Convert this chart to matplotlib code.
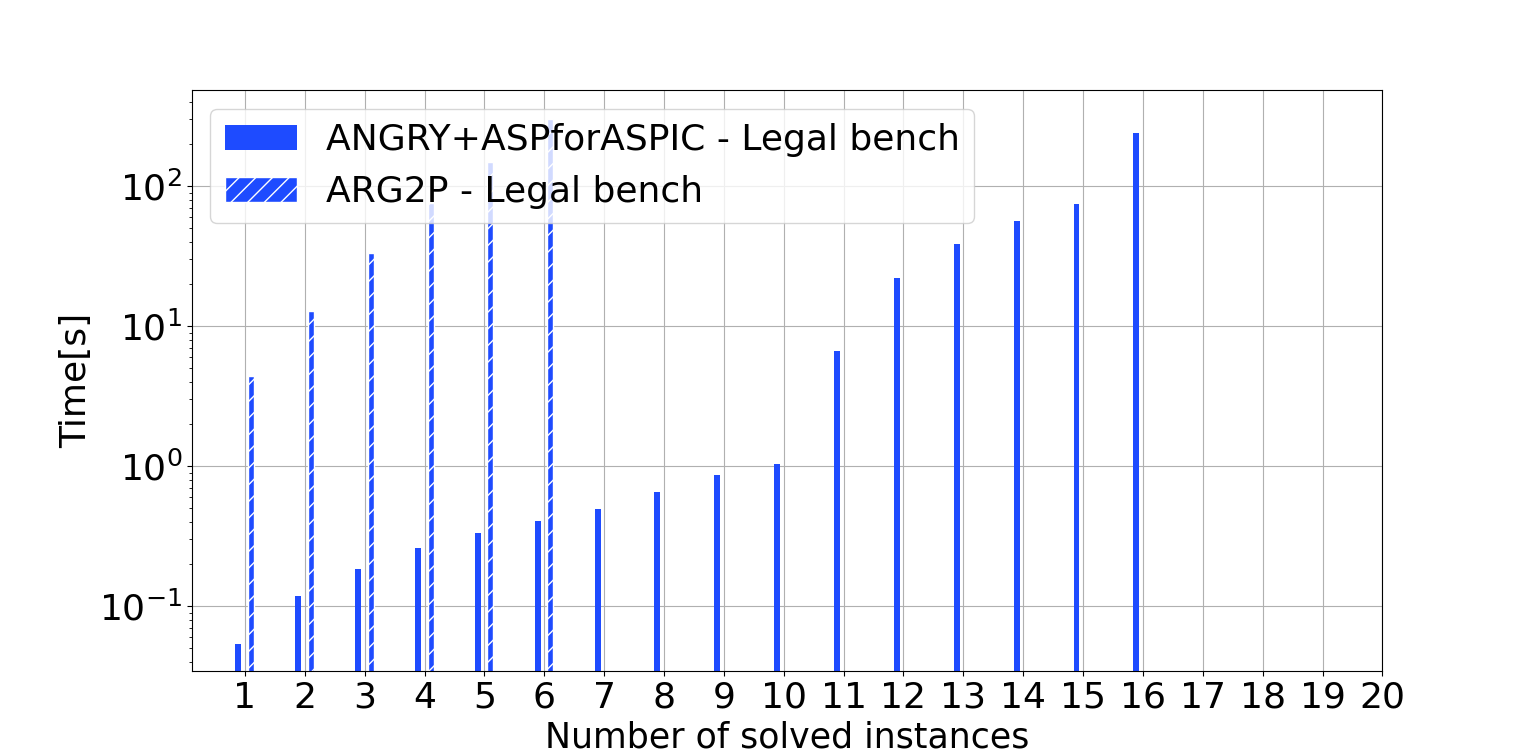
import numpy as np
import matplotlib
matplotlib.use('Agg')
import matplotlib.pyplot as plt

# Number of solved instances (x ticks)
instances = np.arange(1, 21)

# ANGRY+ASPforASPIC times (s), one per solved instance
angry_idx = np.arange(1, 17)
angry_times = [0.054, 0.118, 0.183, 0.259, 0.331, 0.409, 0.493, 0.652,
               0.859, 1.04, 6.64, 22.2, 38.8, 56.8, 75.0, 238.0]

# ARG2P times (s)
arg2p_idx = np.arange(1, 7)
arg2p_times = [4.44, 12.8, 33.5, 76.0, 149.0, 303.0]

color = '#1e4bff'
width = 0.1

fig, ax = plt.subplots(figsize=(15.36, 7.54), dpi=100)
ax.bar(angry_idx - 0.11, angry_times, width, color=color,
       label='ANGRY+ASPforASPIC - Legal bench')
ax.bar(arg2p_idx + 0.1, arg2p_times, width, color=color, edgecolor='white',
       hatch='//', label='ARG2P - Legal bench')

ax.set_yscale('log')
ax.set_ylim(0.0344, 482)
ax.set_xlim(0.115, 20.0)
ax.set_xticks(instances)
ax.tick_params(axis='both', labelsize=26)
ax.set_xlabel('Number of solved instances', fontsize=25)
ax.set_ylabel('Time[s]', fontsize=26)
ax.grid(True, which='major')
ax.set_axisbelow(True)
ax.legend(loc='upper left', fontsize=26)

plt.savefig('out.png', dpi=100)
plt.close()
